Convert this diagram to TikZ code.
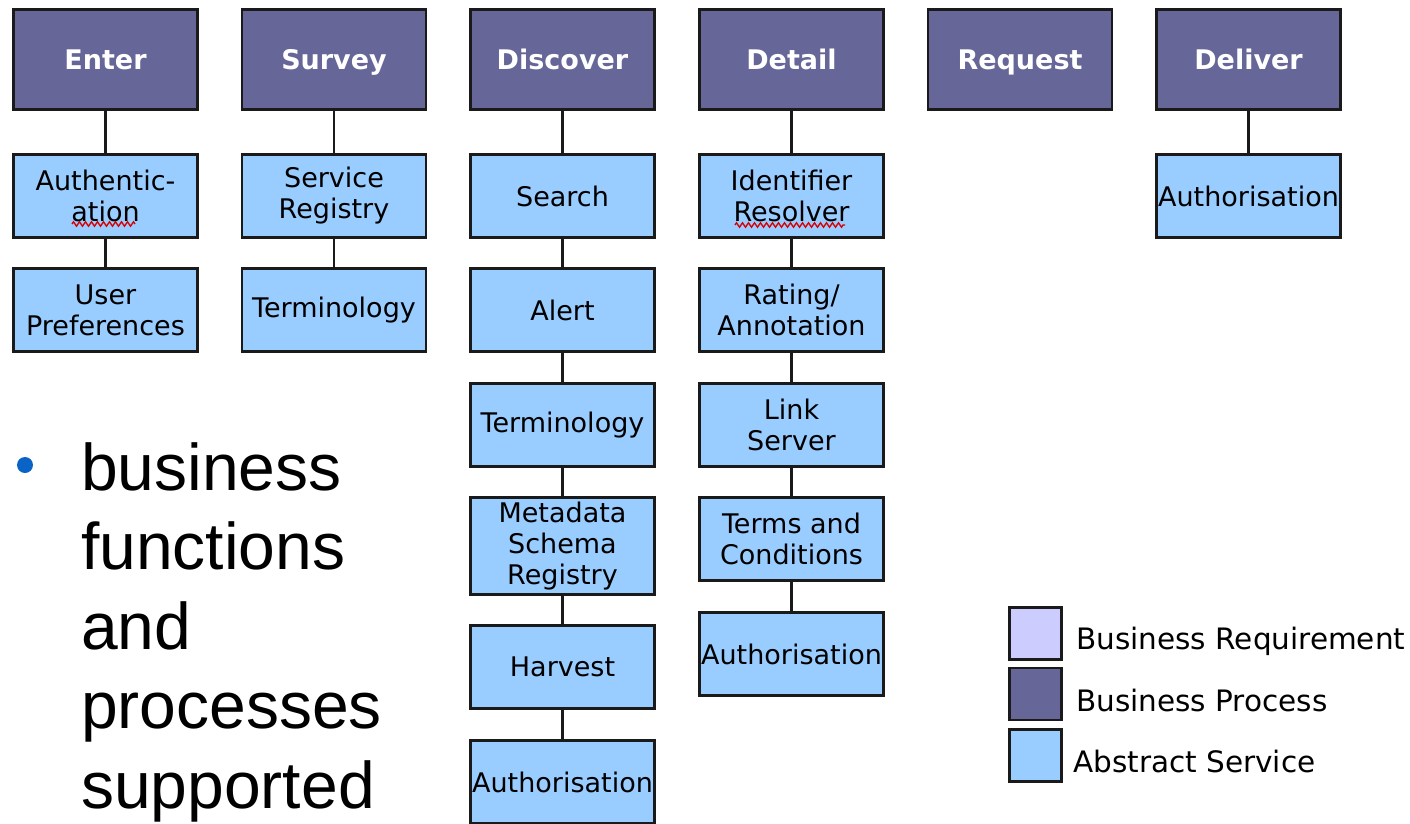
\documentclass[tikz,border=0pt]{standalone}
\usepackage{fontspec}
\setmainfont{DejaVu Sans}
\newfontfamily\bulletfont{Liberation Sans}
\usetikzlibrary{decorations.pathmorphing}
\definecolor{procfill}{HTML}{666699}
\definecolor{svcfill}{HTML}{99CCFF}
\definecolor{reqfill}{HTML}{CCCCFF}
\definecolor{bulletblue}{HTML}{0A64C8}
\definecolor{edgecol}{HTML}{1A1A1A}
\tikzset{
  proc/.style={draw=edgecol, line width=2.5pt, fill=procfill, minimum width=184pt, minimum height=100pt, inner sep=0pt, text height=25pt, text depth=4pt, text=white, font=\fontsize{27}{31}\selectfont\bfseries},
  svc/.style={draw=edgecol, line width=2.5pt, fill=svcfill, minimum width=184pt, minimum height=83pt, inner sep=0pt, align=center, font=\fontsize{27}{31}\selectfont},
  legbox/.style={draw=edgecol, line width=2.5pt, minimum width=52pt, minimum height=52pt, inner sep=0pt},
  legtext/.style={anchor=west, inner sep=0pt, font=\fontsize{29.5}{33}\selectfont},
  link/.style={draw=edgecol, line width=2.5pt},
  squiggle/.style={draw=red!85!black, line width=1.3pt, decorate, decoration={zigzag, segment length=6pt, amplitude=2.2pt}}
}
\begin{document}
\begin{tikzpicture}[x=1pt, y=-1pt]
\useasboundingbox (0,0) rectangle (1410,824);
% process headers
\node[proc] (h1) at (105.5,59.5) {Enter};
\node[proc] (h2) at (334,59.5) {Survey};
\node[proc] (h3) at (562.5,59.5) {Discover};
\node[proc] (h4) at (791.5,59.5) {Detail};
\node[proc] (h5) at (1020,59.5) {Request};
\node[proc] (h6) at (1248.5,59.5) {Deliver};
% Enter
\node[svc] (e1) at (105.5,196) {Authentic-\\ation};
\node[svc] (e2) at (105.5,310) {User\\Preferences};
% Survey
\node[svc] (s1) at (334,196) {Service\\Registry};
\node[svc] (s2) at (334,310) {Terminology};
% Discover
\node[svc] (d1) at (562.5,196) {Search};
\node[svc] (d2) at (562.5,310) {Alert};
\node[svc] (d3) at (562.5,425) {Terminology};
\node[svc, minimum height=97pt] (d4) at (562.5,546) {Metadata\\Schema\\Registry};
\node[svc] (d5) at (562.5,667) {Harvest};
\node[svc] (d6) at (562.5,782) {Authorisation};
% Detail
\node[svc] (t1) at (791.5,196) {Identifier\\Resolver};
\node[svc] (t2) at (791.5,310) {Rating/\\Annotation};
\node[svc] (t3) at (791.5,425) {Link\\Server};
\node[svc] (t4) at (791.5,539) {Terms and\\Conditions};
\node[svc] (t5) at (791.5,654) {Authorisation};
% Deliver
\node[svc] (v1) at (1248.5,196) {Authorisation};
% connectors
\draw[link] (h1) -- (e1); \draw[link] (e1) -- (e2);
\draw[link] (h2) -- (s1); \draw[link] (s1) -- (s2);
\draw[link] (h3) -- (d1); \draw[link] (d1) -- (d2); \draw[link] (d2) -- (d3);
\draw[link] (d3) -- (d4); \draw[link] (d4) -- (d5); \draw[link] (d5) -- (d6);
\draw[link] (h4) -- (t1); \draw[link] (t1) -- (t2); \draw[link] (t2) -- (t3);
\draw[link] (t3) -- (t4); \draw[link] (t4) -- (t5);
\draw[link] (h6) -- (v1);
% spell-check squiggles
\draw[squiggle] (72,224) -- (135,224);
\draw[squiggle] (735,225) -- (845,225);
% bullet text
\fill[bulletblue] (25,465) circle (8pt);
\node[anchor=north west, inner sep=0pt, align=left, font=\bulletfont\fontsize{66}{79.5}\selectfont] (bul) at (81,442) {business\\functions\\and\\processes\\supported};
% legend
\node[legbox, fill=reqfill] (lg1) at (1035.5,633.5) {};
\node[legbox, fill=procfill] (lg2) at (1035.5,694) {};
\node[legbox, fill=svcfill] (lg3) at (1035.5,755.5) {};
\node[legtext] (lt1) at (1076,641) {Business Requirement};
\node[legtext] (lt2) at (1076,700) {Business Process};
\node[legtext] (lt3) at (1073,761) {Abstract Service};
\end{tikzpicture}
\end{document}
